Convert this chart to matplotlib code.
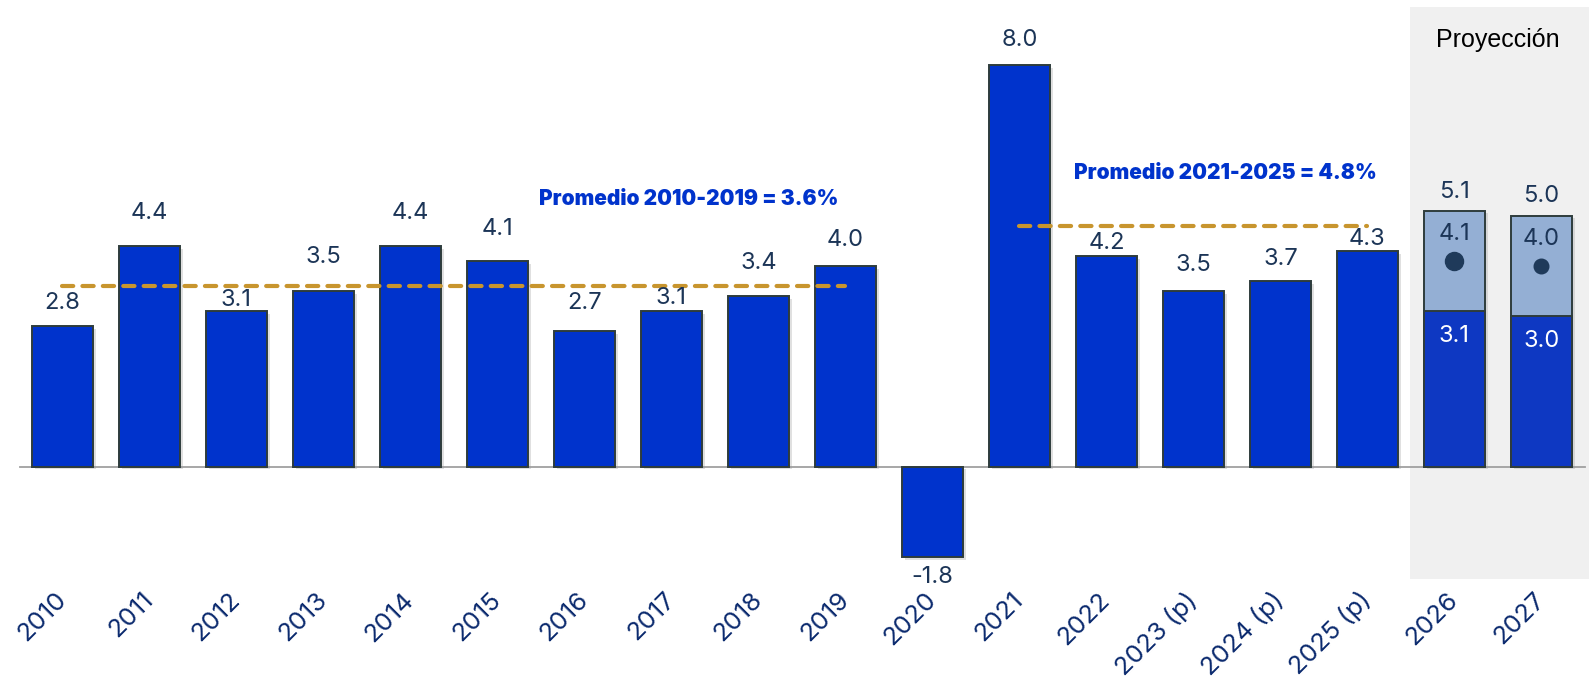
import matplotlib
matplotlib.use("Agg")
import matplotlib.pyplot as plt
import matplotlib.patheffects as pe
import numpy as np

# data
years = ['2010', '2011', '2012', '2013', '2014', '2015', '2016', '2017', '2018',
         '2019', '2020', '2021', '2022', '2023 (p)', '2024 (p)', '2025 (p)']
growth = [2.8, 4.4, 3.1, 3.5, 4.4, 4.1, 2.7, 3.1, 3.4, 4.0, -1.8, 8.0, 4.2, 3.5, 3.7, 4.3]

proj_years = ['2026', '2027']
proj_low = [3.1, 3.0]
proj_mid = [4.1, 4.0]
proj_high = [5.1, 5.0]

avg_1 = 3.6
avg_2 = 4.8
avg_1_label = 'Promedio 2010-2019 = 3.6%'
avg_2_label = 'Promedio 2021-2025 = 4.8%'

# label gaps in pixels (hand placed in the original)
label_gap = [23, 33, 11, 34, 33, 32, 28, 13, 33, 26, -20, 25, 13, 26, 22, 12]
proj_gap = [19, 20]

BLUE = '#0033CC'
PROJ_BLUE = '#0E38C2'
LIGHT = '#94AFD4'
EDGE = '#2E3C3C'
GOLD = '#C8952E'
NAVY = '#1C3557'
TICK = '#0B2A6E'

plt.rcParams['font.family'] = ['Inter', 'DejaVu Sans']

fig = plt.figure(figsize=(15.89, 6.8), dpi=100)
ax = fig.add_axes([0, 0.1485, 1, 0.8515])
ax.set_xlim(-0.718, 17.547)
ax.set_ylim(-2.237, 9.297)
for s in ax.spines.values():
    s.set_visible(False)
ax.tick_params(axis='y', left=False, labelleft=False)

# projection background
ax.axvspan(15.49, 17.6, ymin=0, ymax=(9.16 + 2.237) / (9.297 + 2.237),
           color='#F0F0F0', zorder=0, lw=0)

shadow = [pe.SimplePatchShadow(offset=(2, -2), shadow_rgbFace='#9a9a9a', alpha=0.3), pe.Normal()]

x = np.arange(len(years))
bars = ax.bar(x, growth, width=0.70, color=BLUE, edgecolor=EDGE, linewidth=1.4, zorder=3)
for b in bars:
    b.set_path_effects(shadow)

xp = np.arange(len(years), len(years) + len(proj_years))
b2 = ax.bar(xp, proj_high, width=0.70, color=LIGHT, edgecolor=EDGE, linewidth=1.4, zorder=3)
for b in b2:
    b.set_path_effects(shadow)
b1 = ax.bar(xp, proj_low, width=0.70, color=PROJ_BLUE, edgecolor=EDGE, linewidth=1.4, zorder=3)
ax.plot(xp[:1], proj_mid[:1], 'o', color='#1F3A5A', ms=13, zorder=5)
ax.plot(xp[1:], proj_mid[1:], 'o', color='#1F3A5A', ms=10.5, zorder=5)

# zero line
ax.plot([-0.49, 17.5], [0, 0], color='#A0A0A0', lw=1.3, zorder=2)

# value labels
for xi, v, g in zip(x, growth, label_gap):
    ax.annotate(f'{v:.1f}', (xi, v), xytext=(0, g * 0.72), textcoords='offset points',
                ha='center', va='center', fontsize=17, color=NAVY, zorder=6)
for xi, lo, mid, hi, g in zip(xp, proj_low, proj_mid, proj_high, proj_gap):
    ax.annotate(f'{hi:.1f}', (xi, hi), xytext=(0, g * 0.72), textcoords='offset points',
                ha='center', va='center', fontsize=17, color=NAVY, zorder=6)
    ax.annotate(f'{mid:.1f}', (xi, mid), xytext=(0, 27 * 0.72), textcoords='offset points',
                ha='center', va='center', fontsize=17, color=NAVY, zorder=6)
    ax.annotate(f'{lo:.1f}', (xi, lo), xytext=(0, -25 * 0.72), textcoords='offset points',
                ha='center', va='center', fontsize=17, color='white', zorder=6)

# averages
ax.plot([0, 9], [avg_1, avg_1], color=GOLD, lw=3, dashes=(2.7, 2.2),
        dash_capstyle='round', zorder=4)
ax.plot([11, 15], [avg_2, avg_2], color=GOLD, lw=3, dashes=(2.7, 2.2),
        dash_capstyle='round', zorder=4)
ax.text(7.2, 5.33, avg_1_label, ha='center', va='center', fontsize=15,
        fontweight='black', color=BLUE)
ax.text(13.37, 5.85, avg_2_label, ha='center', va='center', fontsize=15,
        fontweight='black', color=BLUE)

ax.text(16.5, 8.5, 'Proyección', ha='center', va='center', fontsize=18,
        color='black', family=['Liberation Sans', 'DejaVu Sans'])

# x tick labels
ax.set_xticks(np.concatenate([x, xp]))
ax.set_xticklabels(years + proj_years, rotation=45, ha='right', va='center',
                   rotation_mode='anchor', fontsize=18.5, color=TICK)
ax.tick_params(axis='x', bottom=False, pad=9)

fig.savefig('out.png', dpi=100)
